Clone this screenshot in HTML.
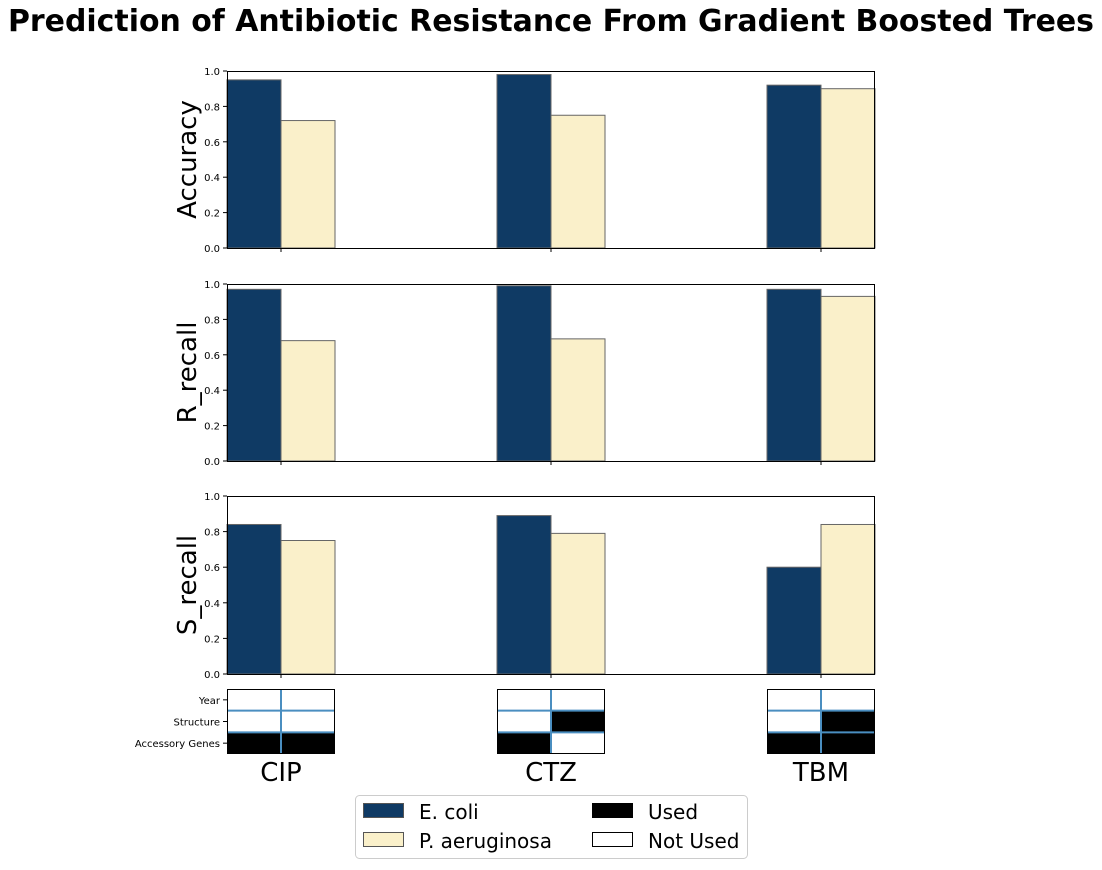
<!DOCTYPE html>
<html><head><meta charset="utf-8"><style>
body{margin:0;background:#fff;font-family:"DejaVu Sans",sans-serif}
svg text{font-family:"DejaVu Sans",sans-serif}
</style></head><body>
<svg id="c" width="1102" height="866">
<text x="551" y="31" text-anchor="middle" font-size="30" font-weight="bold" textLength="1086" lengthAdjust="spacingAndGlyphs">Prediction of Antibiotic Resistance From Gradient Boosted Trees</text>
<g id="plots"></g>
<g>
<rect x="355.5" y="795.5" width="392" height="63" rx="4" fill="#fff" stroke="#ccc"/>
<rect x="363.5" y="803.5" width="40" height="14" fill="#0f3a64" stroke="#555"/>
<text x="419" y="819" font-size="20">E. coli</text>
<rect x="363.5" y="832.5" width="40" height="14" fill="#faf0ca" stroke="#555"/>
<text x="419" y="848" font-size="20">P. aeruginosa</text>
<rect x="592.5" y="803.5" width="40" height="14" fill="#000" stroke="#000"/>
<text x="648" y="819" font-size="20">Used</text>
<rect x="592.5" y="832.5" width="40" height="14" fill="#fff" stroke="#000"/>
<text x="648" y="848" font-size="20">Not Used</text>
</g>
</svg>
<script>
const categories=["CIP","CTZ","TBM"];
const metrics=["Accuracy","R_recall","S_recall"];
const ecoliAccuracy=[0.95,0.98,0.92];
const paerAccuracy=[0.72,0.75,0.90];
const ecoliRrecall=[0.97,0.99,0.97];
const paerRrecall=[0.68,0.69,0.93];
const ecoliSrecall=[0.84,0.89,0.60];
const paerSrecall=[0.75,0.79,0.84];
const yTicks=[0,0.2,0.4,0.6,0.8,1.0];
const featureRows=["Year","Structure","Accessory Genes"];
// used[category][row][species]
const featureUsed=[[[0,0],[0,0],[1,1]],[[0,0],[0,1],[1,0]],[[0,0],[0,1],[1,1]]];

const NS="http://www.w3.org/2000/svg";
const g=document.getElementById("plots");
function mk(t,a,p){const e=document.createElementNS(NS,t);for(const k in a)e.setAttribute(k,a[k]);(p||g).appendChild(e);return e;}
const X0=227,X1=875,xmin=-0.2,xmax=2.2,bw=0.2;
const x=v=>X0+(v-xmin)/(xmax-xmin)*(X1-X0);
const panels=[{top:71,bot:248,e:ecoliAccuracy,p:paerAccuracy},{top:284,bot:461,e:ecoliRrecall,p:paerRrecall},{top:496,bot:674,e:ecoliSrecall,p:paerSrecall}];
panels.forEach((pn,i)=>{
  const y=v=>pn.bot-v*(pn.bot-pn.top);
  const grp=mk("g",{});
  
  
  categories.forEach((c,j)=>{
    const b1=mk("rect",{x:x(j-bw),y:y(pn.e[j]),width:x(j)-x(j-bw),height:pn.bot-y(pn.e[j]),fill:"#0f3a64",stroke:"#666","stroke-width":1},grp);
    
    
    const b2=mk("rect",{x:x(j),y:y(pn.p[j]),width:x(j+bw)-x(j),height:pn.bot-y(pn.p[j]),fill:"#faf0ca",stroke:"#666","stroke-width":1},grp);
    
    
    mk("line",{x1:x(j),x2:x(j),y1:pn.bot,y2:pn.bot+4,stroke:"#000"},grp);
  });
  mk("rect",{x:X0+.5,y:pn.top+.5,width:X1-X0-1,height:pn.bot-pn.top,fill:"none",stroke:"#000","stroke-width":1},grp);
  yTicks.forEach(t=>{
    mk("line",{x1:X0-4,x2:X0,y1:y(t),y2:y(t),stroke:"#000"},grp);
    const tx=mk("text",{x:X0-7,y:y(t)+4,"text-anchor":"end","font-size":10},grp);tx.textContent=t.toFixed(1);
  });
  const lab=mk("text",{transform:`translate(196,${(pn.top+pn.bot)/2}) rotate(-90)`,"text-anchor":"middle","font-size":26},grp);
  lab.textContent=metrics[i];
  
  
});
// heatmap
const HT=689,HB=754,rh=(HB-HT)/3;
const hm=mk("g",{});


categories.forEach((c,j)=>{
  for(let r=0;r<3;r++)for(let s=0;s<2;s++){
    const cx=x(j-bw+s*bw);
    const cell=mk("rect",{x:cx,y:HT+r*rh,width:x(bw)-x(0),height:rh,fill:featureUsed[j][r][s]?"#000":"#fff"},hm);
    
    
  }
  const L=x(j-bw),R=x(j+bw);
  mk("line",{x1:x(j),x2:x(j),y1:HT,y2:HB,stroke:"#4a8ec0","stroke-width":2},hm);
  for(let r=1;r<3;r++)mk("line",{x1:L,x2:R,y1:HT+r*rh,y2:HT+r*rh,stroke:"#4a8ec0","stroke-width":2},hm);
  mk("rect",{x:L+.5,y:HT+.5,width:R-L-1,height:HB-HT-1,fill:"none",stroke:"#000"},hm);
  const t=mk("text",{x:x(j),y:781,"text-anchor":"middle","font-size":26},hm);t.textContent=c;
  
  
});
featureRows.forEach((f,r)=>{
  const yy=HT+(r+.5)*rh;
  mk("line",{x1:X0-4,x2:X0,y1:yy,y2:yy,stroke:"#000"},hm);
  const t=mk("text",{x:X0-7,y:yy+4,"text-anchor":"end","font-size":10},hm);t.textContent=f;
});
</script>
</body></html>
